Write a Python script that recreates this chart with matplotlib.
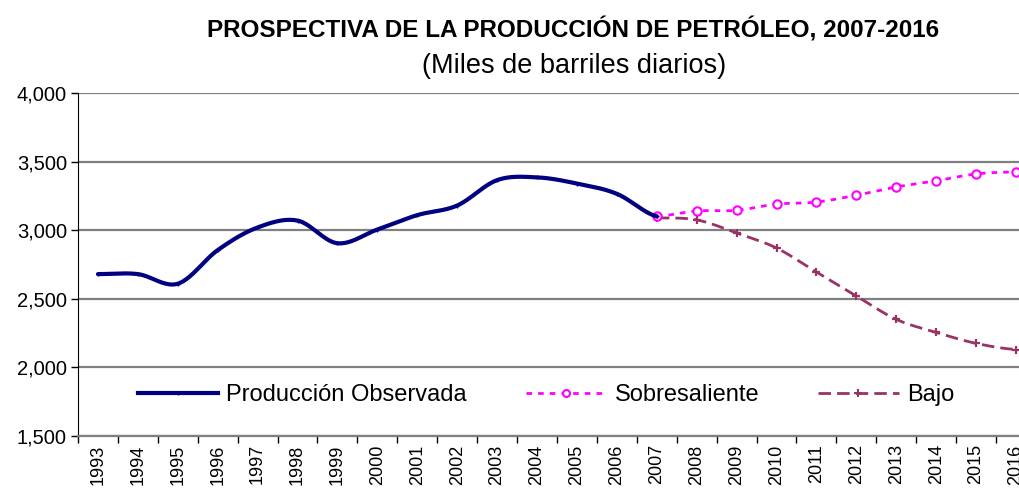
import numpy as np
import matplotlib.pyplot as plt

plt.rcParams['font.family'] = ['Liberation Sans', 'DejaVu Sans']

years = [str(y) for y in range(1993, 2017)]

# Miles de barriles diarios
obs_years = list(range(1993, 2008))
observada = [2680, 2680, 2610, 2855, 3020, 3070, 2905, 3005, 3110, 3180,
             3365, 3385, 3340, 3265, 3100]

proy_years = list(range(2007, 2017))
sobresaliente = [3100, 3140, 3145, 3190, 3205, 3255, 3315, 3360, 3410, 3425]
bajo = [3090, 3075, 2980, 2870, 2695, 2520, 2350, 2255, 2175, 2130]


def smooth(x, y, n=24):
    # Catmull-Rom, looks like the smoothed lines of the original
    x = np.asarray(x, float)
    y = np.asarray(y, float)
    px = np.concatenate([[2 * x[0] - x[1]], x, [2 * x[-1] - x[-2]]])
    py = np.concatenate([[y[0]], y, [y[-1]]])
    xs, ys = [], []
    t = np.linspace(0, 1, n)
    for i in range(1, len(px) - 2):
        p0, p1, p2, p3 = py[i - 1], py[i], py[i + 1], py[i + 2]
        q0, q1, q2, q3 = px[i - 1], px[i], px[i + 1], px[i + 2]
        ys.append(0.5 * ((2 * p1) + (-p0 + p2) * t + (2 * p0 - 5 * p1 + 4 * p2 - p3) * t ** 2
                         + (-p0 + 3 * p1 - 3 * p2 + p3) * t ** 3))
        xs.append(0.5 * ((2 * q1) + (-q0 + q2) * t + (2 * q0 - 5 * q1 + 4 * q2 - q3) * t ** 2
                         + (-q0 + 3 * q1 - 3 * q2 + q3) * t ** 3))
    return np.concatenate(xs), np.concatenate(ys)


fig = plt.figure(figsize=(10.19, 4.91), dpi=100)
ax = fig.add_axes([78 / 1019, 55 / 491, 958 / 1019, 343 / 491])

xo = np.array(obs_years) - 1993
xp = np.array(proy_years) - 1993

navy = '#000080'
mag = '#FF00FF'
plum = '#993366'
dash_b = (0, (4.5, 2.2))
dash_s = (0, (2, 2.2))

sx, sy = smooth(xp, bajo)
ax.plot(sx, sy, color=plum, lw=2, ls=dash_b, zorder=3)
ax.plot(xp, bajo, ls='none', marker='+', ms=6, mew=1.6, color=plum, zorder=4)

sx, sy = smooth(xp, sobresaliente)
ax.plot(sx, sy, color=mag, lw=2, ls=dash_s, zorder=3)
ax.plot(xp, sobresaliente, ls='none', marker='o', ms=6, mew=1.5, mfc='white', mec=mag, zorder=4)

sx, sy = smooth(xo, observada)
ax.plot(sx, sy, color=navy, lw=3, solid_capstyle='round', zorder=5)
ax.plot(xo, observada, ls='none', marker='+', ms=3, mew=1, color=navy, zorder=6)

# legend proxies
h1, = ax.plot([], [], color=navy, lw=3, marker='+', ms=3, mew=1)
h2, = ax.plot([], [], color=mag, lw=2, ls=dash_s, marker='o', ms=5, mew=1.5, mfc='white')
h3, = ax.plot([], [], color=plum, lw=2, ls=dash_b, marker='+', ms=6, mew=1.5)
ax.legend([h1, h2, h3], ['Producción Observada', 'Sobresaliente', 'Bajo'],
          loc='center', bbox_to_anchor=(0.4885, 0.12), ncol=3, frameon=False,
          fontsize=17, handlelength=3.4, handletextpad=0.35, columnspacing=2.5,
          numpoints=1, borderpad=0, borderaxespad=0)

ax.set_ylim(1500, 4000)
ax.set_yticks(np.arange(1500, 4001, 500))
ax.set_yticklabels([f'{v:,}' for v in range(1500, 4001, 500)], fontsize=14.5)
ax.yaxis.grid(True, color='#808080', lw=1.6)
ax.set_axisbelow(True)

ax.set_xlim(-0.5, 23.5)
ax.set_xticks(np.arange(-0.5, 24, 1))
ax.set_xticklabels([])
ax.set_xticks(np.arange(24), minor=True)
ax.set_xticklabels(years, minor=True, rotation=90, fontsize=13)
ax.tick_params(axis='x', which='minor', length=0, pad=6)
ax.tick_params(axis='x', which='major', length=5, color='black', width=1)
ax.tick_params(axis='y', length=5, width=1, pad=3)

for s in ['top', 'right']:
    ax.spines[s].set_visible(False)
ax.spines['bottom'].set_color('#808080')
ax.spines['bottom'].set_linewidth(1.6)
ax.spines['left'].set_color('black')

fig.text(573 / 1019, 1 - 30 / 491, 'PROSPECTIVA DE LA PRODUCCIÓN DE PETRÓLEO, 2007-2016',
         ha='center', va='center', fontsize=17.5, fontweight='bold')
fig.text(574 / 1019, 1 - 66 / 491, '(Miles de barriles diarios)',
         ha='center', va='center', fontsize=19.5)

fig.savefig('out.png', dpi=100)
